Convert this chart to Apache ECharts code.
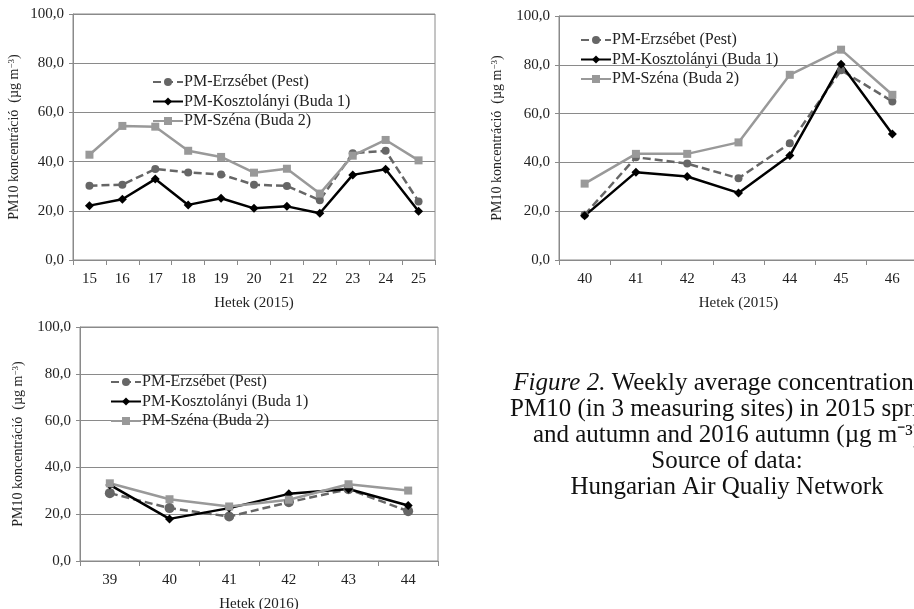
<!DOCTYPE html>
<html>
<head>
<meta charset="utf-8">
<script src="https://cdn.jsdelivr.net/npm/echarts@6/dist/echarts.min.js"></script>
<style>html,body{margin:0;padding:0;background:#fff}#c{width:914px;height:609px}</style>
</head>
<body>
<div id="c"></div>
<script>
// ---- data ----
const namesSeries = ['PM-Erzsébet (Pest)', 'PM-Kosztolányi (Buda 1)', 'PM-Széna (Buda 2)'];

const weeksSpring2015 = ['15','16','17','18','19','20','21','22','23','24','25'];
const erzsSpring2015 = [30.2, 30.6, 37.0, 35.6, 34.8, 30.6, 30.1, 24.3, 43.4, 44.4, 23.8];
const koszSpring2015 = [22.1, 24.7, 32.9, 22.4, 25.1, 21.0, 21.8, 19.0, 34.6, 36.9, 19.8];
const szenSpring2015 = [42.8, 54.5, 54.2, 44.4, 41.9, 35.5, 37.1, 27.0, 42.4, 48.8, 40.5];

const weeksAutumn2015 = ['40','41','42','43','44','45','46'];
const erzsAutumn2015 = [18.5, 42.1, 39.5, 33.5, 47.8, 77.8, 65.0];
const koszAutumn2015 = [18.1, 36.0, 34.2, 27.5, 42.8, 80.2, 51.6];
const szenAutumn2015 = [31.3, 43.5, 43.5, 48.2, 75.9, 86.2, 67.7];

const weeksAutumn2016 = ['39','40','41','42','43','44'];
const erzsAutumn2016 = [29.0, 22.6, 19.0, 25.1, 30.7, 21.3];
const koszAutumn2016 = [32.5, 18.0, 22.6, 28.7, 30.8, 23.7];
const szenAutumn2016 = [33.2, 26.4, 23.3, 26.2, 32.8, 30.1];

const yTicks = [0, 20, 40, 60, 80, 100];
const xTitles = ['Hetek (2015)', 'Hetek (2015)', 'Hetek (2016)'];
const captionLines = [
  'Weekly average concentration of',
  'PM10 (in 3 measuring sites) in 2015 spring',
  'and autumn and 2016 autumn (µg m⁻³)',
  'Source of data:',
  'Hungarian Air Qualiy Network'
];

// ---- styling ----
const FF = 'Liberation Serif';
const TXT = '#222';
const GRIDC = '#8a8a8a';
const CAP = 25;

function xAx(i, cats, title) {
  return {
    type: 'category', gridIndex: i, data: cats, boundaryGap: true,
    axisLine: { lineStyle: { color: GRIDC, width: 1 } },
    axisTick: { show: true, length: 5, lineStyle: { color: GRIDC } },
    axisLabel: { fontFamily: FF, fontSize: 15, color: TXT, margin: 12 },
    name: title, nameLocation: 'middle', nameGap: 36,
    nameTextStyle: { fontFamily: FF, fontSize: 15, color: TXT }
  };
}
function yAx(i, gap) {
  return {
    type: 'value', gridIndex: i, min: yTicks[0], max: yTicks[yTicks.length - 1], interval: 20,
    axisLine: { show: true, lineStyle: { color: GRIDC, width: 1 } },
    axisTick: { show: true, length: 4, lineStyle: { color: GRIDC } },
    splitLine: { show: true, lineStyle: { color: GRIDC, width: 1 } },
    axisLabel: { fontFamily: FF, fontSize: 15, color: TXT, margin: 9,
      formatter: v => v.toFixed(1).replace('.', ',') },
    name: '{a|PM10 koncentráció  (µg m}{s|−3}{a|)}',
    nameLocation: 'middle', nameGap: gap,
    nameTextStyle: { rich: {
      a: { fontFamily: FF, fontSize: 14, color: TXT },
      s: { fontFamily: FF, fontSize: 9, color: TXT, verticalAlign: 'top' }
    } }
  };
}
function mkSeries(i, erz, kos, sze, circ) {
  return [
    { name: namesSeries[0], type: 'line', xAxisIndex: i, yAxisIndex: i, data: erz,
      symbol: 'circle', symbolSize: circ, color: '#666',
      lineStyle: { color: '#666', width: 2.5, type: [8, 4] },
      itemStyle: { color: '#666' } },
    { name: namesSeries[1], type: 'line', xAxisIndex: i, yAxisIndex: i, data: kos,
      symbol: 'diamond', symbolSize: 9, color: '#000',
      lineStyle: { color: '#000', width: 2.5 },
      itemStyle: { color: '#000' } },
    { name: namesSeries[2], type: 'line', xAxisIndex: i, yAxisIndex: i, data: sze,
      symbol: 'rect', symbolSize: 8, color: '#999',
      lineStyle: { color: '#999', width: 2.5 },
      itemStyle: { color: '#999' } }
  ];
}
function legendAt(left, top) {
  return {
    orient: 'vertical', left: left, top: top, data: namesSeries, padding: 0,
    itemWidth: 30, itemHeight: 10, itemGap: 3.5,
    textStyle: { fontFamily: FF, fontSize: 16, color: TXT, padding: [0, 0, 0, -4] },
    selectedMode: false
  };
}

const captionGraphics = captionLines.map((t, k) => ({
  type: 'text',
  style: k === 0 ? {
    text: '{i|Figure 2.}{n| ' + t + '}',
    x: 727, y: 383 + k * 26, align: 'center', verticalAlign: 'middle',
    rich: {
      i: { fontFamily: FF, fontSize: CAP, fontStyle: 'italic', fill: '#111' },
      n: { fontFamily: FF, fontSize: CAP, fill: '#111' }
    }
  } : {
    text: t, x: 727, y: 383 + k * 26, align: 'center', verticalAlign: 'middle',
    fontFamily: FF, fontSize: CAP, fill: '#111'
  }
}));

const gridBase = { show: true, borderColor: GRIDC, borderWidth: 1, outerBoundsMode: 'none', containLabel: false };

const chart = echarts.init(document.getElementById('c'), null, { renderer: 'canvas' });
chart.setOption({
  animation: false,
  backgroundColor: '#fff',
  grid: [
    Object.assign({ left: 73, top: 14, width: 362, height: 246 }, gridBase),
    Object.assign({ left: 559, top: 16, width: 359, height: 244 }, gridBase),
    Object.assign({ left: 80, top: 327, width: 358, height: 234 }, gridBase)
  ],
  xAxis: [xAx(0, weeksSpring2015, xTitles[0]), xAx(1, weeksAutumn2015, xTitles[1]), xAx(2, weeksAutumn2016, xTitles[2])],
  yAxis: [yAx(0, 52), yAx(1, 55), yAx(2, 55)],
  legend: [legendAt(152, 74), legendAt(580, 32), legendAt(110, 374)],
  series: [].concat(
    mkSeries(0, erzsSpring2015, koszSpring2015, szenSpring2015, 8),
    mkSeries(1, erzsAutumn2015, koszAutumn2015, szenAutumn2015, 8),
    mkSeries(2, erzsAutumn2016, koszAutumn2016, szenAutumn2016, 10)
  ),
  graphic: captionGraphics
});
</script>
</body>
</html>
